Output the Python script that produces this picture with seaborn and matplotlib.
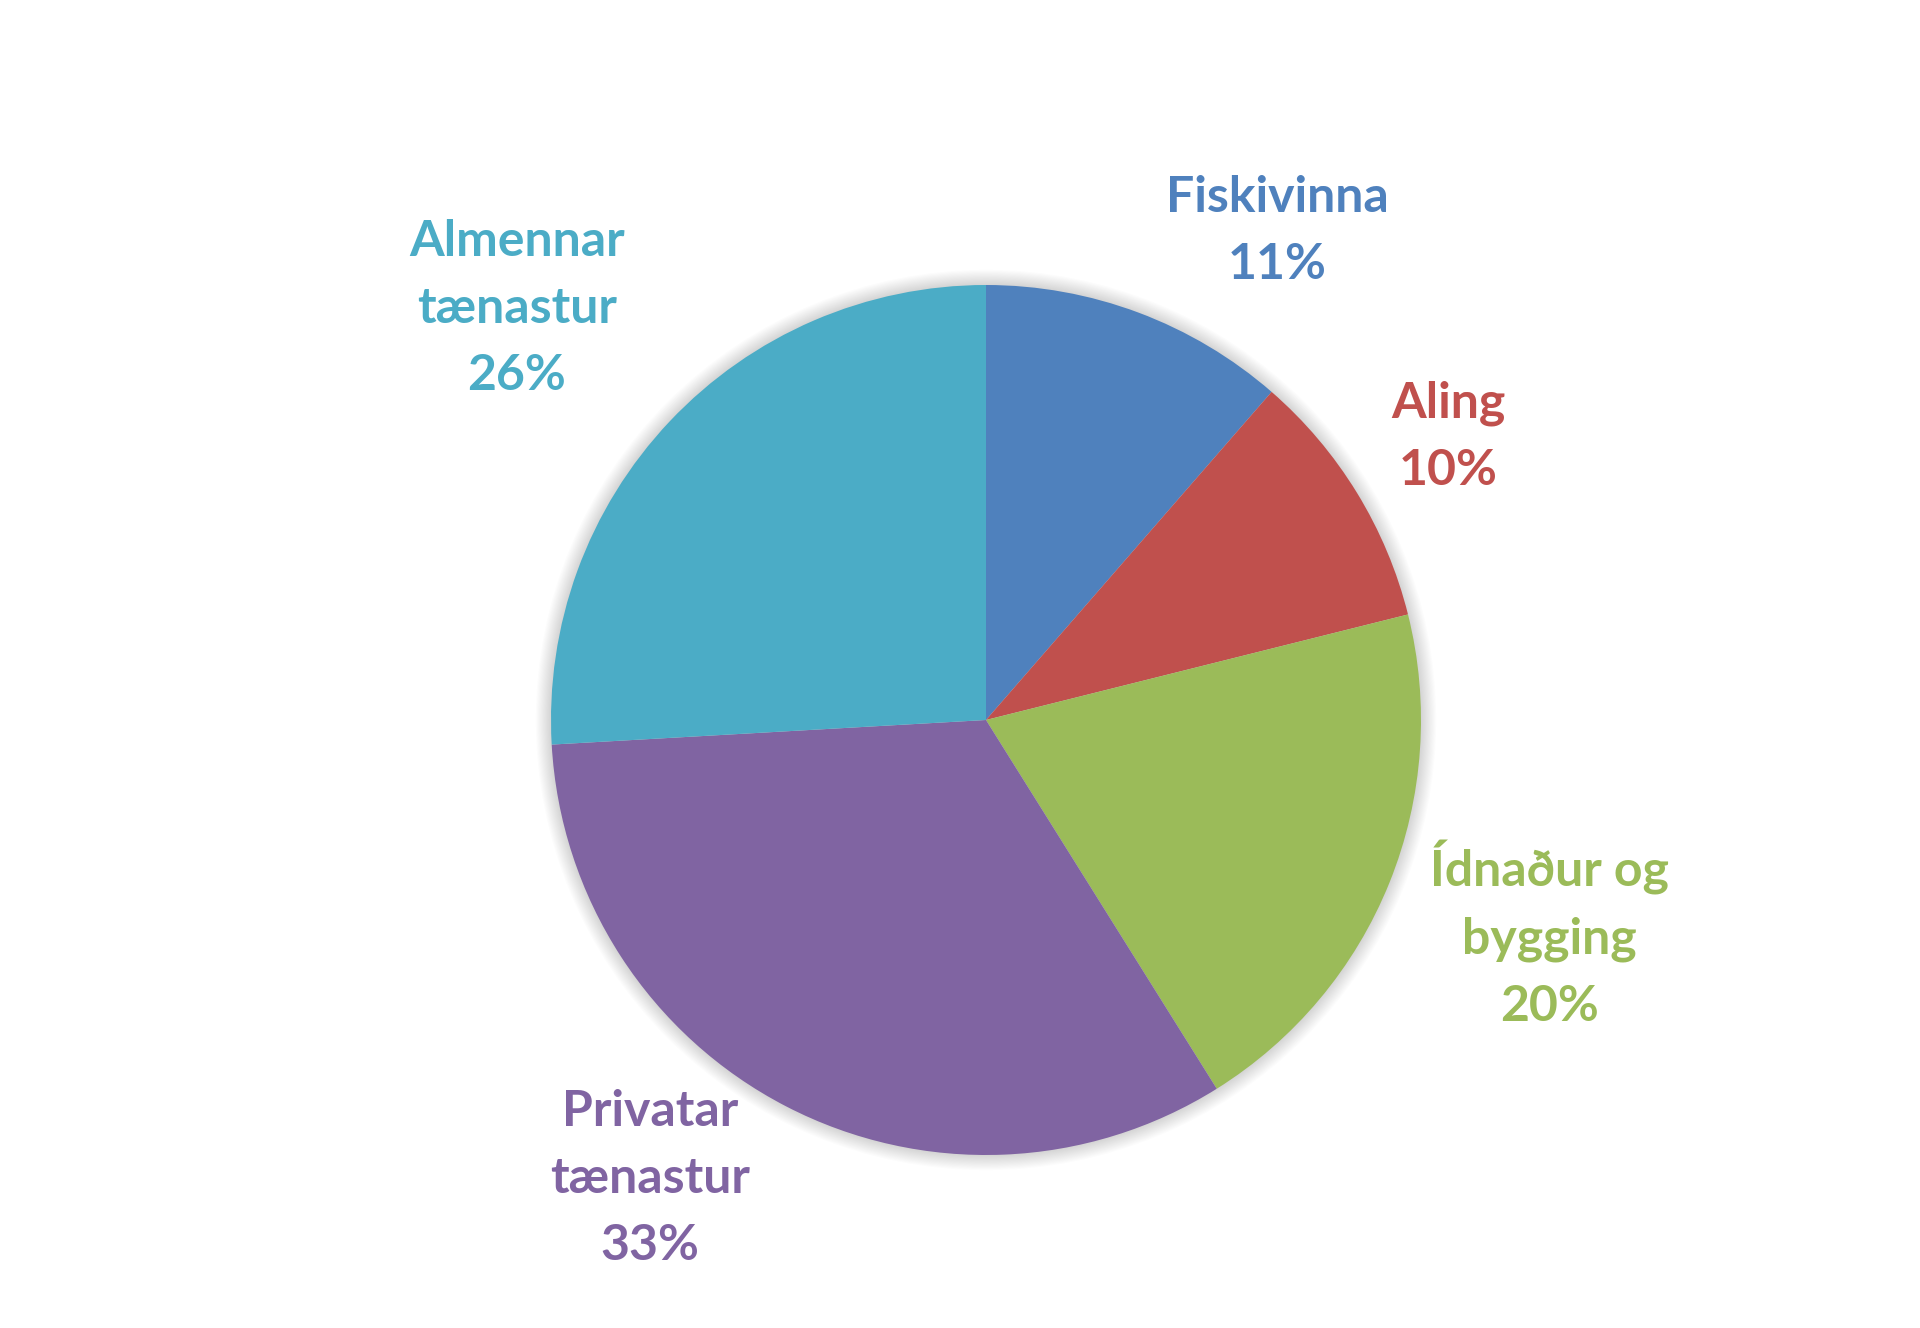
import matplotlib.pyplot as plt
import seaborn as sns
from matplotlib.patches import Circle

# data (share of employment, %)
sectors = ["Fiskivinna", "Aling", "Ídnaður og\nbygging", "Privatar\ntænastur", "Almennar\ntænastur"]
shares = [11.4, 9.7, 20.0, 33.0, 25.9]
shown_pct = [11, 10, 20, 33, 26]
colors = ["#4F81BD", "#C0504D", "#9BBB59", "#8064A2", "#4BACC6"]

# where each label block sits (in pie radii from the centre)
label_xy = [(0.670, 1.124), (1.062, 0.651), (1.296, -0.493), (-0.772, -1.054), (-1.079, 0.946)]

sns.set_theme(style="white")
plt.rcParams['font.family'] = ['Lato', 'DejaVu Sans']

fig = plt.figure(figsize=(19.2, 13.28), dpi=100)
ax = fig.add_axes([0, 0, 1, 1])

# soft shadow round the pie
for i in range(14):
    ax.add_patch(Circle((0, 0), 1.0 + 0.0025 * (i + 1), color="#000000",
                        alpha=0.013, lw=0, zorder=0))

wedges, _ = ax.pie(shares, colors=colors, startangle=90, counterclock=False,
                   radius=1.0, wedgeprops=dict(linewidth=0))
for w in wedges:
    w.set_zorder(2)

for name, pct, col, (x, y) in zip(sectors, shown_pct, colors, label_xy):
    ax.text(x, y, f"{name}\n{pct}%", ha="center", va="center", color=col,
            fontsize=36, fontweight="bold", linespacing=1.6, zorder=3)

ax.set_xlim(-986 / 435, (1920 - 986) / 435)
ax.set_ylim(-608 / 435, 720 / 435)
ax.set_aspect("auto")
ax.axis("off")

fig.savefig("out.png", dpi=100, facecolor="white")
